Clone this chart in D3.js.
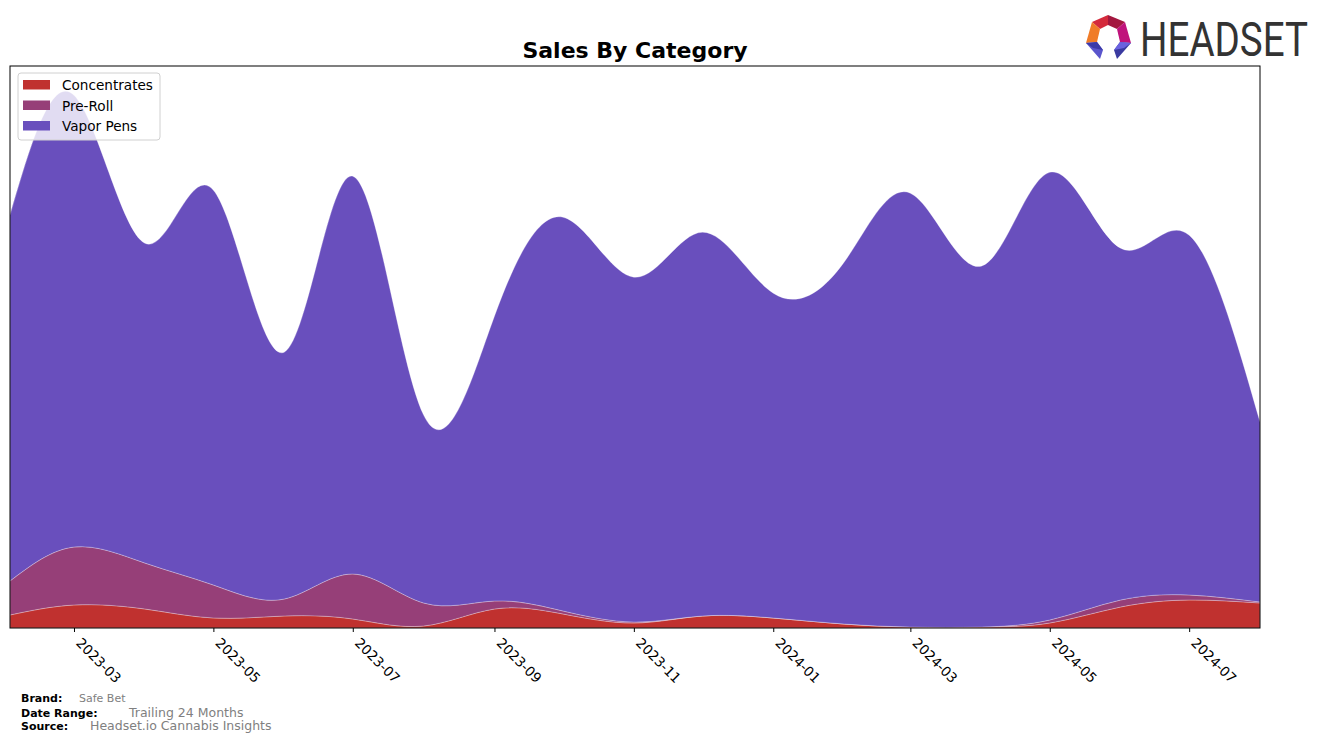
<!DOCTYPE html>
<html>
<head>
<meta charset="utf-8">
<script src="https://cdn.jsdelivr.net/npm/d3@7"></script>
<style>
  body { margin: 0; background: #fff; }
  svg { display: block; font-family: "DejaVu Sans", sans-serif; }
</style>
</head>
<body>
<svg id="chart" width="1324" height="743"></svg>
<script>
// ---- data ----
const months = ["2023-02","2023-03","2023-04","2023-05","2023-06","2023-07","2023-08","2023-09","2023-10","2023-11","2023-12","2024-01","2024-02","2024-03","2024-04","2024-05","2024-06","2024-07","2024-08"];
const categories = ["Concentrates", "Pre-Roll", "Vapor Pens"];
const concentrates = [13, 23, 19, 10, 12, 9, 2, 19, 14, 5, 12, 10, 4, 1, 1, 5, 21, 28, 25];
const preRoll      = [34, 58, 46, 33, 17, 45, 23, 8, 3, 1, 0, 0, 0, 0, 0, 3, 7, 5, 1];
const vaporPens    = [366, 452, 320, 395, 247, 398, 188, 285, 394, 345, 384, 325, 362, 434, 361, 448, 352, 360, 180];
const tickLabels = ["2023-03","2023-05","2023-07","2023-09","2023-11","2024-01","2024-03","2024-05","2024-07"];
const colors = ["#C0312F", "#963F78", "#694FBD"];

// ---- layout ----
const svg = d3.select("#chart");
const m = { left: 10, right: 1260, top: 66, bottom: 628 };
const parse = d3.timeParse("%Y-%m");

const rows = months.map((mo, i) => ({
  date: parse(mo),
  "Concentrates": concentrates[i],
  "Pre-Roll": preRoll[i],
  "Vapor Pens": vaporPens[i]
}));

const x = d3.scaleTime()
  .domain([parse(months[0]), parse(months[months.length - 1])])
  .range([m.left, m.right]);

const stacked = d3.stack().keys(categories)(rows);
const maxTotal = d3.max(stacked[stacked.length - 1], d => d[1]);
const y = d3.scaleLinear().domain([0, maxTotal * 1.055]).range([m.bottom, m.top]);

svg.append("defs").append("clipPath").attr("id", "clip")
  .append("rect").attr("x", m.left).attr("y", m.top)
  .attr("width", m.right - m.left).attr("height", m.bottom - m.top);

const area = d3.area()
  .x(d => x(d.data.date))
  .y0(d => y(Math.max(0, d[0])))
  .y1(d => y(Math.max(0, d[1])))
  .curve(d3.curveNatural);

const g = svg.append("g").attr("clip-path", "url(#clip)");
g.selectAll("path.layer")
  .data(stacked)
  .join("path")
  .attr("class", "layer")
  .attr("d", area)
  .attr("fill", (d, i) => colors[i])
  .attr("stroke", "rgba(255,255,255,0.35)")
  .attr("stroke-width", 0.8);

// frame
svg.append("rect")
  .attr("x", m.left).attr("y", m.top)
  .attr("width", m.right - m.left).attr("height", m.bottom - m.top)
  .attr("fill", "none").attr("stroke", "#000").attr("stroke-width", 1);

// x axis
const tickDates = tickLabels.map(parse);
const ax = svg.append("g").attr("transform", `translate(0,${m.bottom})`)
  .call(d3.axisBottom(x).tickValues(tickDates).tickSize(4).tickFormat(""));
ax.select(".domain").remove();
ax.selectAll(".tick line").attr("stroke", "#000");
svg.append("g").selectAll("text")
  .data(tickDates)
  .join("text")
  .attr("transform", d => `translate(${x(d) + 8},${m.bottom + 9}) rotate(45)`)
  .attr("dy", "0.71em")
  .attr("font-size", 13.6)
  .attr("fill", "#000")
  .text((d, i) => tickLabels[i]);

// title
svg.append("text")
  .attr("x", 635).attr("y", 58)
  .attr("text-anchor", "middle")
  .attr("font-size", 22).attr("font-weight", "bold")
  .text("Sales By Category");

// legend
const lg = svg.append("g");
lg.append("rect").attr("x", 18).attr("y", 73).attr("width", 142).attr("height", 67)
  .attr("rx", 3).attr("fill", "rgba(255,255,255,0.8)").attr("stroke", "#d0d0d0");
categories.forEach((c, i) => {
  lg.append("rect").attr("x", 23).attr("y", 80 + i * 20.5).attr("width", 27).attr("height", 9.5)
    .attr("fill", colors[i]);
  lg.append("text").attr("x", 62).attr("y", 90 + i * 20.5)
    .attr("font-size", 13.6).attr("fill", "#000").text(c);
});

// footer
const ft = svg.append("g");
ft.append("text").attr("x", 21).attr("y", 702).attr("font-size", 11).attr("font-weight", "bold").text("Brand:");
ft.append("text").attr("x", 79).attr("y", 702).attr("font-size", 11).attr("fill", "#808080").text("Safe Bet");
ft.append("text").attr("x", 21).attr("y", 717).attr("font-size", 11).attr("font-weight", "bold").text("Date Range:");
ft.append("text").attr("x", 129).attr("y", 717).attr("font-size", 12.5).attr("fill", "#808080").text("Trailing 24 Months");
ft.append("text").attr("x", 21).attr("y", 730).attr("font-size", 11).attr("font-weight", "bold").text("Source:");
ft.append("text").attr("x", 90).attr("y", 730).attr("font-size", 12.5).attr("fill", "#808080").text("Headset.io Cannabis Insights");

// logo
const logo = svg.append("g");
const O = { t: [1108,15], ur: [1125,22], r: [1131,43], rb: [1117,59], lb: [1100,59], l: [1086,43], ul: [1092,22] };
const I = { t: [1108,25], ur: [1117,29], r: [1120,42], rb: [1114,50], lb: [1103,50], l: [1097,42], ul: [1100,29] };
const segs = [
  [[O.ul, O.t, I.t, I.ul], "#d42a3c"],
  [[O.t, O.ur, I.ur, I.t], "#a3173f"],
  [[O.ur, O.r, I.r, I.ur], "#c0137c"],
  [[O.r, O.rb, I.rb, I.r], "#3a3aa0"],
  [[O.l, O.ul, I.ul, I.l], "#f07c28"],
  [[O.lb, O.l, I.l, I.lb], "#5a55cc"]
];
segs.forEach(([pts, col]) => {
  logo.append("polygon").attr("points", pts.map(p => p.join(",")).join(" ")).attr("fill", col);
});
logo.append("polygon").attr("points", [O.r, [1124,48], I.rb, I.r].map(p=>p.join(",")).join(" ")).attr("fill", "#6a62e0");
logo.append("polygon").attr("points", [O.l, [1093,48], I.lb, I.l].map(p=>p.join(",")).join(" ")).attr("fill", "#3b3aa8");
logo.append("text")
  .attr("transform", "translate(1140,56) scale(1,1.33)")
  .attr("x", 0).attr("y", 0)
  .attr("font-family", "Roboto, 'DejaVu Sans Condensed', sans-serif")
  .attr("font-size", 36).attr("fill", "#333")
  .attr("textLength", 168).attr("lengthAdjust", "spacingAndGlyphs")
  .text("HEADSET");
</script>
</body>
</html>
